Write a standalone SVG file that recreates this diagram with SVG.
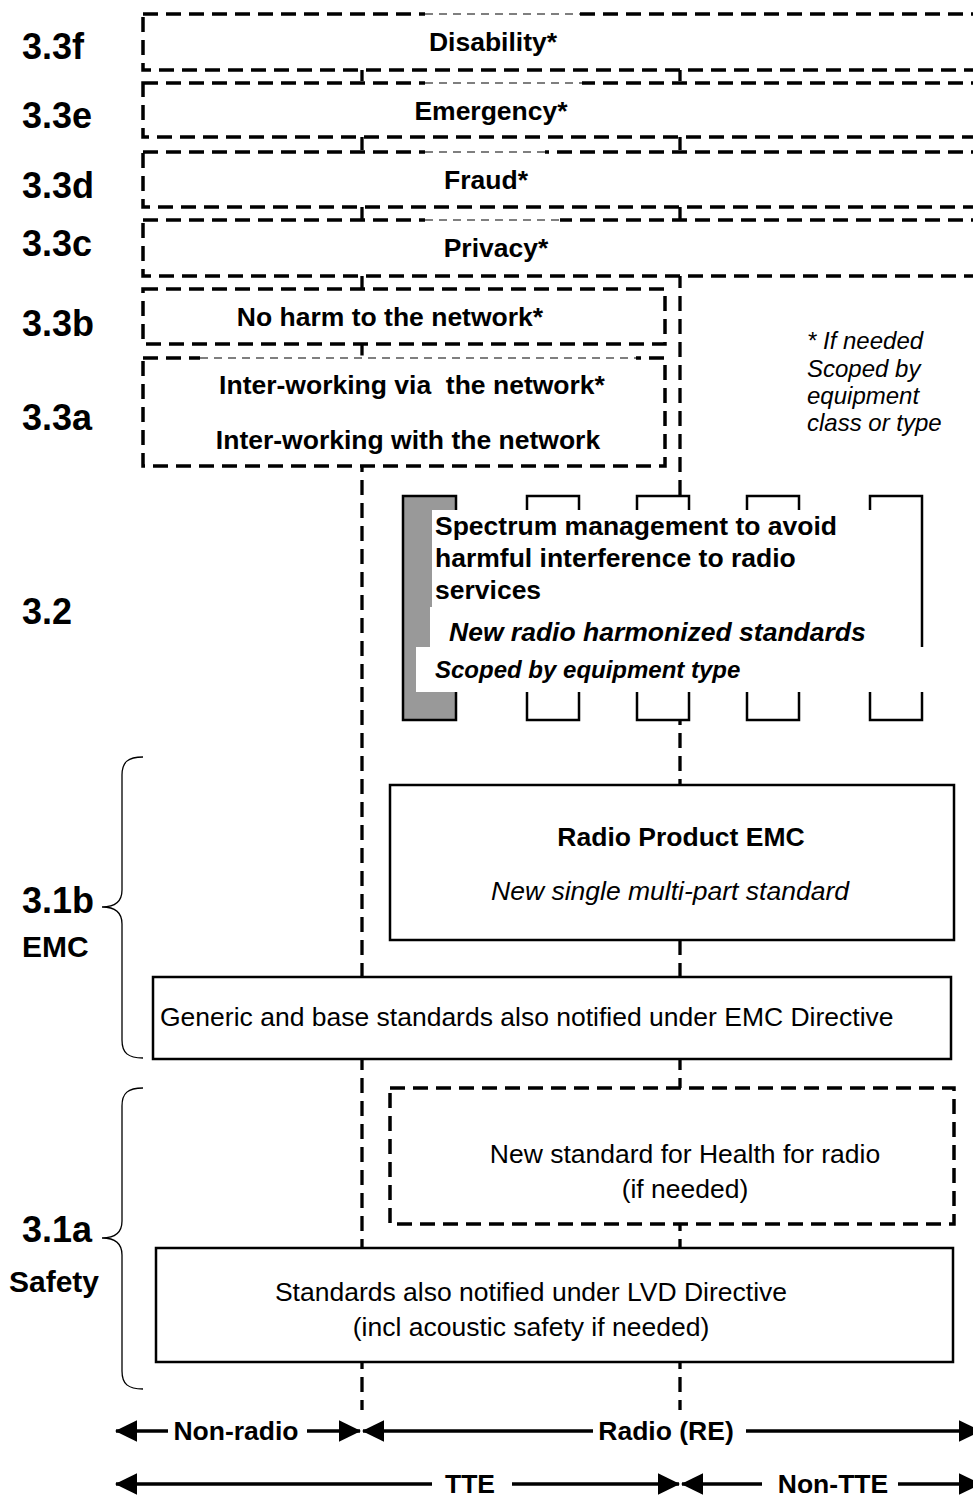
<svg xmlns="http://www.w3.org/2000/svg" width="973" height="1497" viewBox="0 0 973 1497">
<style>
text{font-family:"Liberation Sans",Arial,sans-serif;fill:#000}
.sec{font-size:36px;font-weight:bold}
.sub{font-size:30px;font-weight:bold}
.b{font-size:26.5px;font-weight:bold;text-anchor:middle}
.r{font-size:26.5px;text-anchor:middle}
.bi{font-size:26.5px;font-weight:bold;font-style:italic}
.it{font-size:24px;font-style:italic}
.dbox{fill:#fff;stroke:#000;stroke-width:3.5;stroke-dasharray:15 8}
.sbox{fill:#fff;stroke:#000;stroke-width:2.5}
.vline{fill:none;stroke:#000;stroke-width:3.3;stroke-dasharray:15 8}
.brace{fill:none;stroke:#000;stroke-width:1.3}
.arr{fill:none;stroke:#000;stroke-width:3.3}
.thin{fill:none;stroke:#000;stroke-width:1.2;stroke-dasharray:8 6}
.wipe{fill:none;stroke:#fff;stroke-width:5}
</style>
<defs>
<marker id="ah" markerWidth="7" markerHeight="7" refX="6.5" refY="3.5" orient="auto-start-reverse" markerUnits="strokeWidth">
<path d="M0,0.2 L6.8,3.5 L0,6.8 z" fill="#000"/>
</marker>
</defs>

<g id="connectors">
<line class="vline" x1="362" y1="20" x2="362" y2="1410"/>
<line class="vline" x1="680" y1="20" x2="680" y2="1410"/>
</g>

<g id="labels">
<text class="sec" x="22" y="59">3.3f</text>
<text class="sec" x="22" y="128">3.3e</text>
<text class="sec" x="22" y="198">3.3d</text>
<text class="sec" x="22" y="256">3.3c</text>
<text class="sec" x="22" y="336">3.3b</text>
<text class="sec" x="22" y="430">3.3a</text>
<text class="sec" x="22" y="624">3.2</text>
<text class="sec" x="22" y="913">3.1b</text>
<text class="sub" x="22" y="957">EMC</text>
<text class="sec" x="22" y="1242">3.1a</text>
<text class="sub" x="9" y="1292">Safety</text>
</g>

<g id="n-33f">
<rect class="dbox" x="143" y="14" width="850" height="56"/>
<line class="wipe" x1="425" y1="14" x2="580" y2="14"/>
<line class="thin" x1="425" y1="14" x2="580" y2="14"/>
<text class="b" x="493" y="51">Disability*</text>
</g>
<g id="n-33e">
<rect class="dbox" x="143" y="83" width="850" height="54"/>
<line class="wipe" x1="425" y1="83" x2="582" y2="83"/>
<line class="thin" x1="425" y1="83" x2="582" y2="83"/>
<text class="b" x="491" y="120">Emergency*</text>
</g>
<g id="n-33d">
<rect class="dbox" x="143" y="152" width="850" height="55"/>
<line class="wipe" x1="425" y1="152" x2="545" y2="152"/>
<line class="thin" x1="425" y1="152" x2="545" y2="152"/>
<text class="b" x="486" y="189">Fraud*</text>
</g>
<g id="n-33c">
<rect class="dbox" x="143" y="220" width="850" height="56"/>
<line class="wipe" x1="425" y1="220" x2="560" y2="220"/>
<line class="thin" x1="425" y1="220" x2="560" y2="220"/>
<text class="b" x="496" y="257">Privacy*</text>
</g>
<g id="n-33b">
<rect class="dbox" x="143" y="289" width="522" height="55"/>
<text class="b" x="390" y="326">No harm to the network*</text>
</g>
<g id="n-33a">
<rect class="dbox" x="143" y="358" width="522" height="108"/>
<line class="wipe" x1="200" y1="358" x2="636" y2="358"/>
<line class="thin" x1="200" y1="358" x2="636" y2="358"/>
<text class="b" x="412" y="394" xml:space="preserve">Inter-working via  the network*</text>
<text class="b" x="408" y="449">Inter-working with the network</text>
</g>

<g id="note">
<text class="it" x="807" y="349">* If needed</text>
<text class="it" x="807" y="377">Scoped by</text>
<text class="it" x="807" y="404">equipment</text>
<text class="it" x="807" y="431">class or type</text>
</g>

<g id="n-32">
<rect x="403" y="496" width="53" height="224" fill="#999" stroke="#000" stroke-width="2.5"/>
<rect class="sbox" x="527" y="496" width="52" height="224"/>
<rect class="sbox" x="637" y="496" width="52" height="224"/>
<rect class="sbox" x="747" y="496" width="52" height="224"/>
<rect class="sbox" x="870" y="496" width="52" height="224"/>
<rect x="432" y="510" width="475" height="97" fill="#fff"/>
<rect x="430" y="607" width="477" height="40" fill="#fff"/>
<rect x="416" y="647" width="557" height="45" fill="#fff"/>
<text class="bi" x="435" y="535" style="font-style:normal">Spectrum management to avoid</text>
<text class="bi" x="435" y="567" style="font-style:normal">harmful interference to radio</text>
<text class="bi" x="435" y="599" style="font-style:normal">services</text>
<text class="bi" x="449" y="641">New radio harmonized standards</text>
<text class="bi" x="435" y="678" style="font-size:24px">Scoped by equipment type</text>
</g>

<g id="n-emc-radio">
<rect class="sbox" x="390" y="785" width="564" height="155"/>
<text class="b" x="681" y="846">Radio Product EMC</text>
<text class="r" x="670" y="900" style="font-style:italic">New single multi-part standard</text>
</g>
<g id="n-emc-generic">
<rect class="sbox" x="153" y="977" width="798" height="82"/>
<text class="r" x="160" y="1026" style="text-anchor:start">Generic and base standards also notified under EMC Directive</text>
</g>
<g id="n-health">
<rect class="dbox" x="390" y="1088" width="564" height="136"/>
<text class="r" x="685" y="1163">New standard for Health for radio</text>
<text class="r" x="685" y="1198">(if needed)</text>
</g>
<g id="n-lvd">
<rect class="sbox" x="156" y="1248" width="797" height="114"/>
<text class="r" x="531" y="1301">Standards also notified under LVD Directive</text>
<text class="r" x="531" y="1336">(incl acoustic safety if needed)</text>
</g>

<g id="braces">
<path class="brace" d="M143,757 C128,757 122,762 122,775 L122,890 C122,902 114,907 102,907 C114,907 122,912 122,924 L122,1040 C122,1053 128,1058 143,1058"/>
<path class="brace" d="M143,1088 C128,1088 122,1093 122,1106 L122,1221 C122,1233 114,1238 102,1238 C114,1238 122,1243 122,1255 L122,1371 C122,1384 128,1389 143,1389"/>
</g>

<g id="scope-arrows">
<line class="arr" x1="168" y1="1431" x2="116" y2="1431" marker-end="url(#ah)"/>
<line class="arr" x1="307" y1="1431" x2="360" y2="1431" marker-end="url(#ah)"/>
<line class="arr" x1="593" y1="1431" x2="363" y2="1431" marker-end="url(#ah)"/>
<line class="arr" x1="746" y1="1431" x2="980" y2="1431" marker-end="url(#ah)"/>
<text class="b" x="236" y="1440">Non-radio</text>
<text class="b" x="666" y="1440">Radio (RE)</text>
<line class="arr" x1="432" y1="1484" x2="116" y2="1484" marker-end="url(#ah)"/>
<line class="arr" x1="512" y1="1484" x2="679" y2="1484" marker-end="url(#ah)"/>
<line class="arr" x1="762" y1="1484" x2="682" y2="1484" marker-end="url(#ah)"/>
<line class="arr" x1="898" y1="1484" x2="980" y2="1484" marker-end="url(#ah)"/>
<text class="b" x="470" y="1493">TTE</text>
<text class="b" x="833" y="1493">Non-TTE</text>
</g>
</svg>
